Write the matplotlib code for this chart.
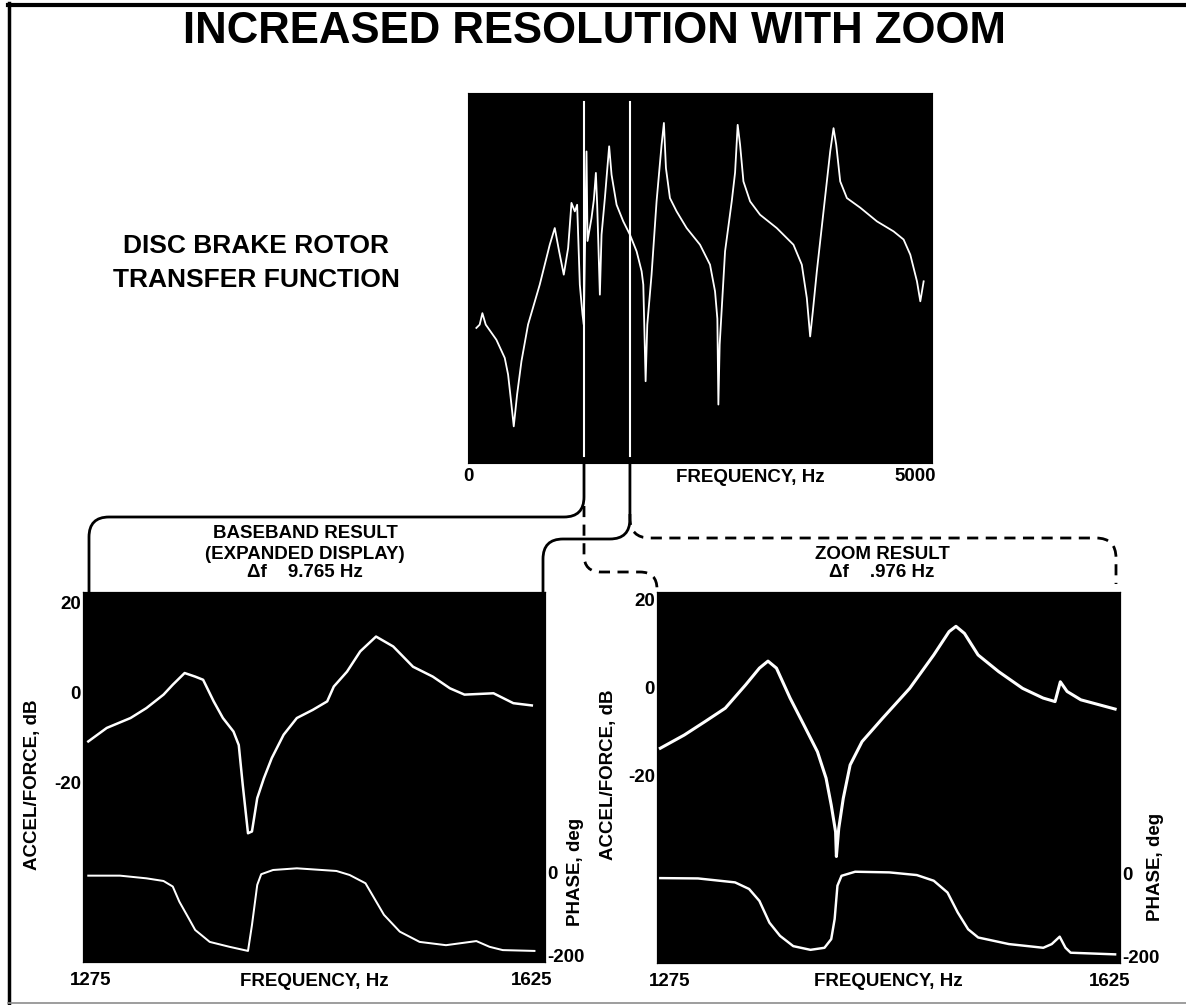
import numpy as np
import matplotlib
matplotlib.use('Agg')
import matplotlib.pyplot as plt
from matplotlib.path import Path
from matplotlib.patches import PathPatch
from matplotlib.transforms import ScaledTranslation

plt.rcParams['font.family'] = ['Liberation Sans', 'DejaVu Sans']
plt.rcParams['font.weight'] = 'bold'
plt.rcParams['axes.labelweight'] = 'bold'

TXT = 13.5
W, H = 1186, 1005

# overview transfer function, 0 - 5000 Hz (level in dB, arbitrary reference)
top_freq = [90, 126, 155, 191, 306, 396, 432, 468, 493, 529, 576, 647, 773, 881, 935,
            982, 1032, 1079, 1115, 1151, 1176, 1205, 1234, 1248, 1277, 1288, 1331, 1356,
            1378, 1392, 1421, 1439, 1475, 1521, 1547, 1601, 1673, 1745, 1817, 1871, 1889,
            1914, 1932, 1978, 2032, 2086, 2111, 2133, 2176, 2248, 2356, 2500, 2608, 2662,
            2687, 2698, 2712, 2770, 2842, 2878, 2906, 2932, 2968, 3040, 3147, 3327, 3507,
            3597, 3651, 3687, 3716, 3759, 3831, 3903, 3939, 3968, 4011, 4083, 4227, 4407,
            4586, 4694, 4766, 4838, 4874, 4910]
top_level = [-43.5, -42.6, -39.5, -42.6, -46.7, -51.6, -56.1, -64.2, -70.1, -61.5, -52.5,
             -42.6, -31.8, -21.0, -16.5, -22.8, -29.1, -21.9, -9.7, -12.0, -10.2, -31.8,
             -39.9, -42.6, 4.2, -20.0, -13.8, -8.9, -1.6, -10.2, -34.5, -18.3, -8.4, 5.6,
             -2.1, -10.2, -14.7, -18.3, -22.8, -28.2, -31.8, -57.9, -42.6, -29.1, -9.3,
             6.0, 11.9, -0.3, -8.4, -12.0, -16.5, -21.0, -26.4, -33.6, -41.0, -64.2, -48.0,
             -22.8, -9.3, -1.5, 11.4, 6.0, -3.9, -9.3, -12.9, -16.5, -21.0, -26.4, -35.4,
             -45.8, -39.0, -28.2, -12.0, 4.2, 10.5, 6.0, -3.9, -8.4, -11.0, -14.7, -17.4,
             -19.6, -23.7, -30.9, -36.3, -30.9]
# where the analysis band is marked on the overview
band_marks = [1250, 1745]

# baseband result (expanded display), df = 9.765 Hz
base_freq = [1279, 1293, 1311, 1323, 1336, 1343, 1352, 1360, 1366, 1374, 1381, 1389, 1393,
             1396, 1400, 1403, 1407, 1412, 1418, 1427, 1437, 1449, 1460, 1465, 1475, 1485,
             1497, 1510, 1525, 1540, 1553, 1564, 1586, 1601, 1615]
base_mag = [-10.8, -7.8, -5.6, -3.4, -0.4, 1.8, 4.4, 3.6, 2.9, -1.9, -5.6, -8.6, -11.6,
            -20.4, -31.2, -30.8, -23.4, -19.0, -14.5, -9.3, -5.6, -3.8, -1.9, 1.4, 4.7, 9.2,
            12.5, 10.3, 5.8, 3.6, 1.0, -0.4, -0.1, -2.3, -2.8]
base_ph_freq = [1279, 1303, 1323, 1336, 1343, 1348, 1355, 1360, 1371, 1386, 1400, 1403, 1407,
                1410, 1419, 1437, 1467, 1477, 1489, 1495, 1503, 1515, 1530, 1550, 1573, 1583,
                1593, 1617]
base_phase = [-6.5, -6.5, -13, -19.5, -33, -70, -110, -139, -168, -180, -190, -127, -29,
              -3, 7.3, 11.4, 4.9, -4.9, -25, -58, -102, -143, -168, -176, -166, -180, -188,
              -190]

# zoom result, df = .976 Hz
zoom_freq = [1277.5, 1295.6, 1311, 1326.6, 1342, 1352.4, 1358.9, 1365.3, 1375.6, 1386,
             1396.3, 1402.8, 1406.7, 1410, 1410.6, 1412.4, 1415.8, 1421, 1430, 1445.5, 1466,
             1484.2, 1495.8, 1501, 1507.4, 1517.7, 1533.3, 1551.4, 1566.9, 1575.9, 1579.9,
             1585, 1595.4, 1621.3]
zoom_mag = [-13.7, -10.7, -7.7, -4.6, 0.7, 4.5, 6.1, 4.5, -2.3, -8.4, -14.5, -20.5, -26.6,
            -32.7, -38.3, -31.9, -25.1, -17.5, -12.2, -6.9, -0.1, 7.5, 12.8, 14.0, 12.4, 7.5,
            3.7, -0.1, -2.3, -3.1, 1.4, -0.8, -2.7, -4.8]
zoom_ph_freq = [1277.5, 1306, 1334, 1344.6, 1352.4, 1360, 1368, 1378, 1391, 1401.6, 1406.7,
                1409.3, 1411.4, 1414.5, 1424.8, 1450.6, 1471.4, 1484.2, 1494.6, 1502.3,
                1510.2, 1517.8, 1541, 1567, 1573.4, 1579.4, 1583.8, 1587.7, 1621.3]
zoom_phase = [-10.6, -11.4, -21, -37, -66, -119, -151, -176, -185, -180, -159, -110, -29, -5,
              4.9, 3.3, -3.2, -17, -45.6, -94, -135, -155, -171, -180, -171, -153, -180, -192,
              -196]


fig = plt.figure(figsize=(W / 100, H / 100), dpi=100)


def px_axes(x0, y0, x1, y1):
    return fig.add_axes([x0 / W, 1 - y1 / H, (x1 - x0) / W, (y1 - y0) / H])


def nudge(label, dx):
    label.set_transform(label.get_transform() + ScaledTranslation(dx / 100, 0, fig.dpi_scale_trans))


def dark(ax):
    ax.set_facecolor('black')
    for s in ax.spines.values():
        s.set_color('black')


# --- overview ---
ax_top = px_axes(468, 93, 932, 463)
dark(ax_top)
ax_top.plot(top_freq, top_level, color='white', lw=1.3)
for f in band_marks:
    ax_top.axvline(f, ymin=0.02, ymax=0.976, color='white', lw=1.5)
ax_top.set_xlim(0, 5000)
ax_top.set_ylim(-80, 20)
ax_top.set_yticks([])
ax_top.set_xticks([0, 5000], ['0', '5000'])
ax_top.tick_params(axis='x', length=0, pad=3.5, labelsize=TXT)
ax_top.set_xlabel('FREQUENCY, Hz', fontsize=TXT)
ax_top.xaxis.set_label_coords(0.608, -0.04)
ax_top.xaxis.label.set_va('center')


def response_panel(box, freq, mag, ph_freq, ph, mag_lim, lw, lab):
    ax = px_axes(*box)
    dark(ax)
    ax.plot(freq, mag, color='white', lw=lw)
    ax.set_xlim(1275, 1625)
    ax.set_ylim(*mag_lim)
    ax.set_xticks([1275, 1625], ['1275', '1625'])
    ax.set_yticks([20, 0, -20], ['20', '0', '-20'])
    ax.tick_params(axis='x', length=0, pad=7, labelsize=TXT)
    ax.tick_params(axis='y', length=0, pad=1.5, labelsize=TXT)
    ax.set_xlabel('FREQUENCY, Hz', fontsize=TXT)
    ax.xaxis.set_label_coords(0.5, lab['xl'])
    ax.xaxis.label.set_va('center')
    ax.set_ylabel('ACCEL/FORCE, dB', fontsize=TXT)
    ax.yaxis.set_label_coords(*lab['yl'])
    ax.yaxis.label.set_va('center')

    pax = ax.twinx()
    pax.plot(ph_freq, ph, color='white', lw=lw * 0.8)
    pax.set_ylim(-217, 685)
    pax.set_yticks([0, -200], ['0', '-200'])
    pax.tick_params(axis='y', length=0, pad=1.5, labelsize=TXT)
    for s in pax.spines.values():
        s.set_color('black')
    pax.set_ylabel('PHASE, deg', fontsize=TXT)
    pax.yaxis.set_label_coords(*lab['pl'])
    pax.yaxis.label.set_va('center')
    return ax, pax


ax_base, _ = response_panel((83, 592, 545, 962), base_freq, base_mag, base_ph_freq, base_phase,
                            (-59.8, 22.4), 1.8,
                            {'xl': -0.054, 'yl': (-0.110, 0.478), 'pl': (1.065, 0.243)})
ax_zoom, _ = response_panel((657, 592, 1120, 963), zoom_freq, zoom_mag, zoom_ph_freq, zoom_phase,
                            (-62.5, 21.8), 2.2,
                            {'xl': -0.051, 'yl': (-0.104, 0.507), 'pl': (1.076, 0.259)})

# tick labels sit a little inside the plot edges
nudge(ax_top.get_xticklabels()[1], -17)
for ax, (d0, d1) in [(ax_base, (8, -13)), (ax_zoom, (13, -10))]:
    lbls = ax.get_xticklabels()
    nudge(lbls[0], d0)
    nudge(lbls[1], d1)

# --- overlay: frame, brackets and text ---
ov = fig.add_axes([0, 0, 1, 1])
ov.axis('off')
ov.set_xlim(0, W)
ov.set_ylim(H, 0)

ov.plot([9, 9], [3, H], color='black', lw=2.5)
ov.plot([8, W], [5, 5], color='black', lw=3)
ov.plot([8, W], [1002.5, 1002.5], color='0.55', lw=1.2)


def fig_px(ax, x, y):
    d = ax.transData.transform((x, y))
    return d[0], H - d[1]


def rounded(points, r):
    pts = [np.array(p, float) for p in points]
    verts, codes = [pts[0]], [Path.MOVETO]
    for i in range(1, len(pts) - 1):
        a = pts[i] - pts[i - 1]
        b = pts[i + 1] - pts[i]
        a /= np.hypot(*a)
        b /= np.hypot(*b)
        verts += [pts[i] - a * r, pts[i], pts[i] + b * r]
        codes += [Path.LINETO, Path.CURVE3, Path.CURVE3]
    verts.append(pts[-1])
    codes.append(Path.LINETO)
    return Path(verts, codes)


x1, y_top_bot = fig_px(ax_top, band_marks[0], -80)
x2, _ = fig_px(ax_top, band_marks[1], -80)
bl_l, bl_top = fig_px(ax_base, 1275, 22.4)
bl_r, _ = fig_px(ax_base, 1625, 22.4)
br_l, br_top = fig_px(ax_zoom, 1275, 21.8)
br_r, _ = fig_px(ax_zoom, 1625, 21.8)

solid = dict(fill=False, color='black', lw=2.0, capstyle='butt')
dashed = dict(fill=False, color='black', lw=2.0, linestyle=(0, (4, 2.7)))
ov.add_patch(PathPatch(rounded([(x1, y_top_bot), (x1, 517), (bl_l + 6, 517), (bl_l + 6, bl_top)], 20), **solid))
ov.add_patch(PathPatch(rounded([(x2, y_top_bot), (x2, 539), (bl_r - 2, 539), (bl_r - 2, bl_top)], 20), **solid))
ov.add_patch(PathPatch(rounded([(x1, 506), (x1, 572), (br_l, 572), (br_l, br_top - 2)], 17), **dashed))
ov.add_patch(PathPatch(rounded([(x2, 514), (x2, 538), (br_r - 4, 538), (br_r - 4, br_top - 8)], 20), **dashed))

ov.text(594, 43, 'INCREASED RESOLUTION WITH ZOOM', ha='center', va='baseline', fontsize=31.5)
ov.text(256, 253, 'DISC BRAKE ROTOR', ha='center', va='baseline', fontsize=19)
ov.text(256, 287, 'TRANSFER FUNCTION', ha='center', va='baseline', fontsize=19)

ov.text(305, 538, 'BASEBAND RESULT', ha='center', va='baseline', fontsize=TXT)
ov.text(305, 559, '(EXPANDED DISPLAY)', ha='center', va='baseline', fontsize=TXT)
ov.text(305, 577, 'Δf    9.765 Hz', ha='center', va='baseline', fontsize=TXT)
ov.text(882, 559, 'ZOOM RESULT', ha='center', va='baseline', fontsize=TXT)
ov.text(882, 577, 'Δf    .976 Hz', ha='center', va='baseline', fontsize=TXT)

fig.savefig('out.png', dpi=100, facecolor='white')
